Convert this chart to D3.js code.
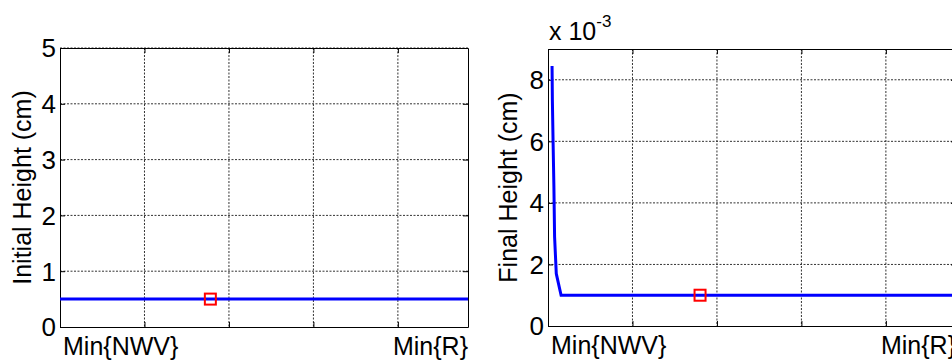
<!DOCTYPE html>
<html>
<head>
<meta charset="utf-8">
<script src="https://cdn.jsdelivr.net/npm/d3@7"></script>
<style>
  html, body { margin: 0; padding: 0; background: #fff; }
  svg { display: block; font-family: "Liberation Sans", Arial, sans-serif; }
  .grid line { stroke: #333; stroke-width: 1; stroke-dasharray: 2,1.5; }
  .axis path, .axis line { stroke: #000; stroke-width: 1; }
  .axis text { display: none; }
</style>
</head>
<body>
<script>
// x axis: parameter sweep between Min{NWV} and Min{R}
var xMax = 4.83;
var xTicks = [0, 1, 2, 3, 4];
var xEndLabels = ["Min{NWV}", "Min{R}"];

// left panel: initial height (cm)
var initialYTicks = [0, 1, 2, 3, 4, 5];
var initialX = [0, 4.83];
var initialY = [0.5, 0.5];
var initialMarker = [1.78, 0.5];

// right panel: final height (cm)
var finalYTicks = [0, 0.002, 0.004, 0.006, 0.008];
var finalX = [0.048, 0.052, 0.06, 0.07, 0.078, 0.098, 0.155, 4.83];
var finalY = [0.00845, 0.0073, 0.0060, 0.0045, 0.0029, 0.0017, 0.0010, 0.0010];
var finalMarker = [1.8, 0.0010];

var svg = d3.select("body").append("svg")
    .attr("width", 952)
    .attr("height", 360);

// draw one panel
function drawPanel(opt){
    var x = d3.scaleLinear().domain([0, xMax]).range([opt.left, opt.left + 408]);
    var y = d3.scaleLinear().domain(opt.yDomain).range([opt.bottom, opt.top]);
    var g = svg.append("g");

    // dotted grid
    var grid = g.append("g").attr("class", "grid");
    grid.selectAll(".gx").data(xTicks.slice(1)).enter().append("line")
        .attr("x1", d => x(d)).attr("x2", d => x(d))
        .attr("y1", opt.top).attr("y2", opt.bottom);
    grid.selectAll(".gy").data(opt.yTicks.slice(1)).enter().append("line")
        .attr("x1", opt.left).attr("x2", opt.left + 408)
        .attr("y1", d => y(d)).attr("y2", d => y(d));

    // box with inward ticks
    g.append("g").attr("class", "axis")
        .attr("transform", "translate(0," + opt.bottom + ")")
        .call(d3.axisBottom(x).tickValues(xTicks).tickSizeInner(-5).tickSizeOuter(0));
    g.append("g").attr("class", "axis")
        .attr("transform", "translate(0," + opt.top + ")")
        .call(d3.axisTop(x).tickValues(xTicks).tickSizeInner(-5).tickSizeOuter(0));
    g.append("g").attr("class", "axis")
        .attr("transform", "translate(" + opt.left + ",0)")
        .call(d3.axisLeft(y).tickValues(opt.yTicks).tickSizeInner(-5).tickSizeOuter(0));
    g.append("g").attr("class", "axis")
        .attr("transform", "translate(" + (opt.left + 408) + ",0)")
        .call(d3.axisRight(y).tickValues(opt.yTicks).tickSizeInner(-5).tickSizeOuter(0));

    // y tick labels
    g.selectAll(".ylab").data(opt.yTicks).enter().append("text")
        .attr("x", opt.left - 4)
        .attr("y", d => y(d))
        .attr("dy", "0.36em")
        .attr("text-anchor", "end")
        .attr("font-size", 26)
        .text(opt.tickFormat);

    // x end labels
    g.append("text")
        .attr("x", x(0) + 3).attr("y", opt.bottom + 28)
        .attr("font-size", 25)
        .text(xEndLabels[0]);
    g.append("text")
        .attr("x", x(xMax)).attr("y", opt.bottom + 28)
        .attr("text-anchor", "end")
        .attr("font-size", 25)
        .text(xEndLabels[1]);

    // y axis title
    g.append("text")
        .attr("transform", "translate(" + opt.titleX + "," + ((opt.top + opt.bottom) / 2) + ") rotate(-90)")
        .attr("text-anchor", "middle")
        .attr("font-size", 25)
        .text(opt.title);

    // curve
    var line = d3.line().x(d => x(d[0])).y(d => y(d[1]));
    g.append("path")
        .datum(opt.xs.map((v, i) => [v, opt.ys[i]]))
        .attr("d", line)
        .attr("fill", "none")
        .attr("stroke", "#0000ff")
        .attr("stroke-width", 3);

    // marker
    g.append("rect")
        .attr("x", x(opt.marker[0]) - 5.5)
        .attr("y", y(opt.marker[1]) - 5.5)
        .attr("width", 11).attr("height", 11)
        .attr("fill", "none")
        .attr("stroke", "#ff0000")
        .attr("stroke-width", 2);
    return g;
}

drawPanel({
    left: 60, top: 48, bottom: 327,
    yDomain: [0, 5], yTicks: initialYTicks,
    tickFormat: d => d,
    title: "Initial Height (cm)", titleX: 31,
    xs: initialX, ys: initialY, marker: initialMarker
});

var right = drawPanel({
    left: 548, top: 49, bottom: 326,
    yDomain: [0, 0.009], yTicks: finalYTicks,
    tickFormat: d => Math.round(d * 1000),
    title: "Final Height (cm)", titleX: 517,
    xs: finalX, ys: finalY, marker: finalMarker
});

// exponent label
var expo = right.append("text")
    .attr("x", 549).attr("y", 40)
    .attr("font-size", 25);
expo.append("tspan").text("x 10");
expo.append("tspan").attr("dy", -13).attr("font-size", 17).text("-3");
</script>
</body>
</html>
